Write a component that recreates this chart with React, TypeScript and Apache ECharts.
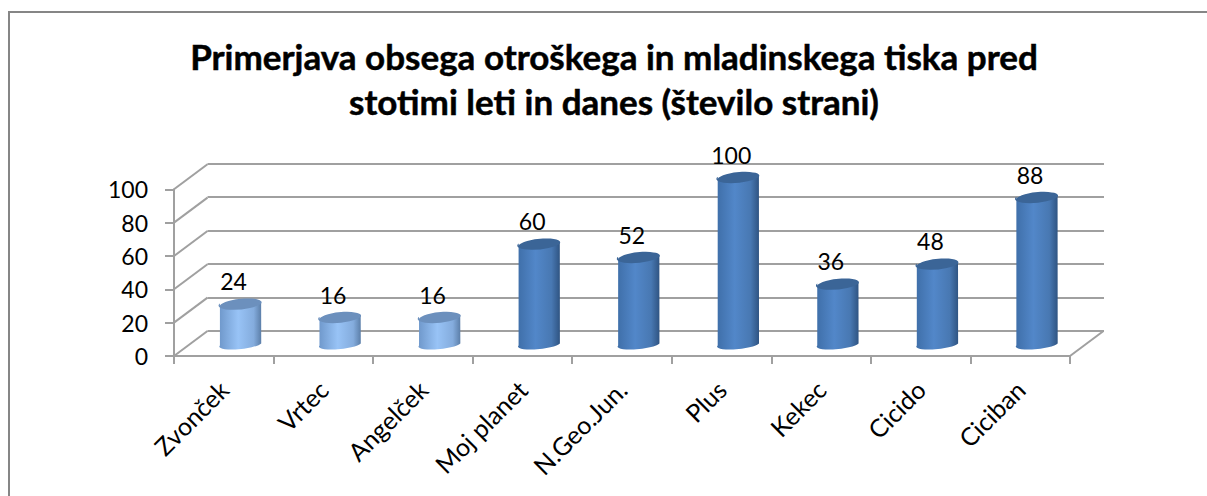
import React, { useEffect, useRef } from "react";
import * as echarts from "echarts";

const titleLines = ["Primerjava obsega otroškega in mladinskega tiska pred", "stotimi leti in danes (število strani)"];
const categories = ["Zvonček", "Vrtec", "Angelček", "Moj planet", "N.Geo.Jun.", "Plus", "Kekec", "Cicido", "Ciciban"];
const values = [24, 16, 16, 60, 52, 100, 36, 48, 88];
const tones = ["light", "light", "light", "dark", "dark", "dark", "dark", "dark", "dark"];
const wallTicks = [0, 20, 40, 60, 80, 100];

const FONT = "Lato, Carlito, Calibri, sans-serif";
const GRID_COLOR = "#a0a0a0";
const DEPTH_X = 33.5;
const DEPTH_Y = 25;
const palettes: Record<string, any> = {
  light: {
    top: "#6c90bd",
    stops: [
      [0, "#6f98cb"],
      [0.45, "#98c3f6"],
      [0.82, "#84acdd"],
      [1, "#5c7fa9"],
    ],
  },
  dark: {
    top: "#3b6597",
    stops: [
      [0, "#3f6fa9"],
      [0.42, "#5287c9"],
      [0.8, "#4878b2"],
      [1, "#2f5482"],
    ],
  },
};

function renderCylinder(params: any, api: any) {
  const idx = api.value(0);
  const v = api.value(1);
  const band = api.size([1, 0])[0];
  const rx = band * 0.208;
  const ryTop = 5.6;
  const ryBase = 4.4;
  const rot = 5.6;
  const ax = rx * Math.cos((rot * Math.PI) / 180);
  const ay = rx * Math.sin((rot * Math.PI) / 180);
  const topPt = api.coord([idx, v]);
  const basePt = api.coord([idx, 0]);
  const cx = topPt[0] + DEPTH_X / 2;
  const ty = topPt[1] - DEPTH_Y / 2;
  const by = basePt[1] - DEPTH_Y / 2;
  const pal = palettes[tones[idx]];
  const body =
    `M ${cx - ax} ${ty + ay} L ${cx - ax} ${by + ay} ` +
    `A ${rx} ${ryBase} ${-rot} 0 0 ${cx + ax} ${by - ay} L ${cx + ax} ${ty - ay} ` +
    `A ${rx} ${ryTop} ${-rot} 0 1 ${cx - ax} ${ty + ay} Z`;
  const cap =
    `M ${cx - ax} ${ty + ay} A ${rx} ${ryTop} ${-rot} 0 1 ${cx + ax} ${ty - ay} ` +
    `A ${rx} ${ryTop} ${-rot} 0 1 ${cx - ax} ${ty + ay} Z`;
  return {
    type: "group",
    silent: true,
    children: [
      {
        type: "path",
        shape: { pathData: body },
        style: {
          fill: new echarts.graphic.LinearGradient(
            0, 0, 1, 0,
            pal.stops.map((s: any) => ({ offset: s[0], color: s[1] }))
          ),
        },
      },
      { type: "path", shape: { pathData: cap }, style: { fill: pal.top } },
      {
        type: "text",
        style: {
          text: String(v),
          x: cx - 7,
          y: ty - 22,
          align: "center",
          verticalAlign: "middle",
          font: `23px ${FONT}`,
          fill: "#000",
        },
      },
    ],
  };
}

function renderDepthLine(params: any, api: any) {
  const sys = params.coordSys;
  const v = api.value(0);
  const y = api.coord([0, v])[1];
  const isRight = api.value(1) === 1;
  const x = isRight ? sys.x + sys.width : sys.x;
  return {
    type: "line",
    silent: true,
    shape: { x1: x, y1: y, x2: x + DEPTH_X, y2: y - DEPTH_Y },
    style: { stroke: GRID_COLOR, lineWidth: 2 },
  };
}

const depthData = [...wallTicks.map((t) => [t, 0]), [0, 1]];

export default function App() {
  const ref = useRef<HTMLDivElement>(null);
  useEffect(() => {
    const chart = echarts.init(ref.current!, null, { renderer: "svg" });
    chart.setOption({
      animation: false,
      backgroundColor: "#fff",
      title: {
        text: titleLines.join("\n"),
        left: 609,
        top: 28,
        textAlign: "center",
        textStyle: {
          fontFamily: FONT,
          fontWeight: "bold",
          fontSize: 35,
          lineHeight: 45,
          color: "#000",
          textBorderColor: "#000",
          textBorderWidth: 0.5,
        },
      },
      graphic: [
        {
          type: "polyline",
          silent: true,
          shape: { points: [[9, 496], [9, 12], [1207, 12]] },
          style: { stroke: "#868686", lineWidth: 2, fill: "none" },
        },
      ],
      grid: [
        { left: 174, top: 189.3, width: 896, height: 166.7 },
        { left: 207.5, top: 163.3, width: 896.5, height: 167.5 },
      ],
      xAxis: [
        {
          type: "category",
          data: categories,
          gridIndex: 0,
          axisLine: { lineStyle: { color: GRID_COLOR, width: 2 } },
          axisTick: { show: true, alignWithLabel: false, length: 8, lineStyle: { color: GRID_COLOR, width: 2 } },
          axisLabel: { interval: 0, rotate: 45, margin: 29, fontFamily: FONT, fontSize: 25, color: "#000" },
          z: 3,
        },
        { type: "category", data: categories, gridIndex: 1, show: false },
      ],
      yAxis: [
        {
          type: "value",
          min: 0,
          max: 100,
          interval: 20,
          gridIndex: 0,
          axisLine: { show: true, lineStyle: { color: GRID_COLOR, width: 2 } },
          axisTick: { show: true, length: 9, lineStyle: { color: GRID_COLOR, width: 2 } },
          axisLabel: { margin: 26, fontFamily: FONT, fontSize: 23, color: "#000" },
          splitLine: { show: false },
          z: 3,
        },
        {
          type: "value",
          min: 0,
          max: 100,
          interval: 20,
          gridIndex: 1,
          axisLine: { show: false },
          axisTick: { show: false },
          axisLabel: { show: false },
          splitLine: { show: true, lineStyle: { color: GRID_COLOR, width: 2 } },
        },
      ],
      series: [
        {
          type: "custom",
          xAxisIndex: 0,
          yAxisIndex: 0,
          renderItem: renderDepthLine,
          data: depthData,
          encode: { y: 0 },
          clip: false,
          z: 1,
        },
        {
          type: "custom",
          xAxisIndex: 0,
          yAxisIndex: 0,
          renderItem: renderCylinder,
          data: values.map((v, i) => [i, v]),
          encode: { x: 0, y: 1 },
          clip: false,
          z: 5,
        },
      ],
    });
    return () => chart.dispose();
  }, []);
  return <div ref={ref} style={{ position: "fixed", left: 0, top: 0, width: 1207, height: 496 }} />;
}
